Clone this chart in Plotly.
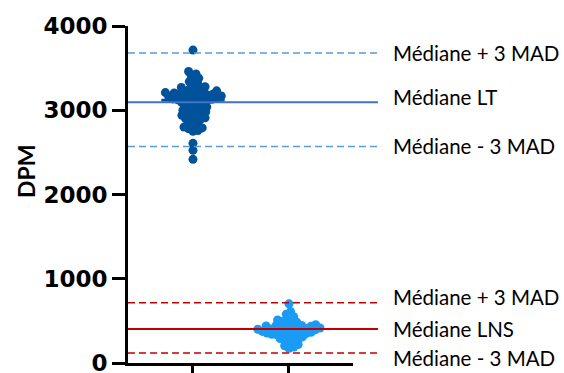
import numpy as np
import plotly.graph_objects as go

categories = ["LT", "LNS"]
cat_pos = [1, 2]

lt_values = [3714,
             3460, 3430, 3410,
             3380, 3360, 3340, 3320, 3300,
             3280, 3270, 3260, 3250, 3240, 3230, 3220, 3215, 3210, 3205, 3200, 3195,
             3190, 3185, 3180, 3175, 3170, 3165, 3160, 3155, 3150, 3145, 3140, 3135,
             3130, 3125, 3120, 3115, 3110,
             3100, 3090, 3080, 3070, 3060, 3050, 3040, 3030, 3020, 3010, 3000, 2990,
             2980, 2970, 2960, 2950, 2940, 2930, 2920, 2910, 2900, 2890, 2880,
             2860, 2840, 2820, 2800, 2790, 2780, 2760, 2750,
             2607, 2524, 2417]
lns_values = [702, 610, 580, 550, 530, 510, 495, 485, 475, 465, 455, 450, 445, 440,
              435, 430, 425, 420, 415, 410, 405, 400, 400, 395, 390, 385, 380, 375,
              370, 365, 360, 355, 350, 345, 340, 335, 330, 320, 310, 300, 290, 280,
              265, 250, 235, 220, 205, 190, 175]

lt_lines = [3680, 3095, 2570]
lns_lines = [715, 405, 120]
lt_labels = ["Médiane + 3 MAD", "Médiane LT", "Médiane - 3 MAD"]
lns_labels = ["Médiane + 3 MAD", "Médiane LNS", "Médiane - 3 MAD"]
y_ticks = [0, 1000, 2000, 3000, 4000]

# layout geometry
L, R, T, B = 128, 211, 26, 10
W, H = 564, 373
plot_w = W - L - R
plot_h = H - T - B
x_range = [0.323, 2.667]
y_range = [0, 4000]
px_x = plot_w / (x_range[1] - x_range[0])
px_y = plot_h / (y_range[1] - y_range[0])


def swarm(values, d=5.0):
    ys = np.array(values, dtype=float) * px_y
    order = np.argsort(ys)
    placed = []
    xs = np.zeros(len(ys))
    for i in order:
        y = ys[i]
        cands = [0.0]
        for xj, yj in placed:
            dy = y - yj
            if abs(dy) < d:
                dx = np.sqrt(d * d - dy * dy)
                cands += [xj + dx, xj - dx]
        cands.sort(key=abs)
        for c in cands:
            if all((c - xj) ** 2 + (y - yj) ** 2 >= d * d - 1e-6 for xj, yj in placed):
                xs[i] = c
                break
        placed.append((xs[i], y))
    return xs / px_x


fig = go.Figure()

colors = ["#00529B", "#1A9BF5"]
for pos, vals, col in zip(cat_pos, [lt_values, lns_values], colors):
    off = swarm(vals)
    fig.add_trace(go.Scatter(x=pos + off, y=vals, mode="markers",
                             marker=dict(size=9, color=col, line=dict(width=0)),
                             showlegend=False, hoverinfo="y"))

# median bar for LT
med = float(np.median(lt_values))
fig.add_trace(go.Scatter(x=[cat_pos[0] - 0.33, cat_pos[0] + 0.33], y=[med, med],
                         mode="lines", line=dict(color="#00529B", width=3),
                         showlegend=False, hoverinfo="skip"))

x_end = (378 - L) / plot_w
label_x = (391 - L) / plot_w

line_styles = [
    (lt_lines, lt_labels, ["#5B9BD5", "#4472C4", "#5B9BD5"], [1.5, 2, 1.5], ["7px,4px", "solid", "7px,4px"], [0, 5, 0]),
    (lns_lines, lns_labels, ["#C00000"] * 3, [1.5, 2, 1.5], ["7px,4px", "solid", "7px,4px"], [6, 0, -5]),
]
for vals, labels, cols, widths, dashes, shifts in line_styles:
    for v, lab, c, w, dsh, sh in zip(vals, labels, cols, widths, dashes, shifts):
        fig.add_shape(type="line", xref="paper", yref="y", x0=0, x1=x_end, y0=v, y1=v,
                      line=dict(color=c, width=w, dash=dsh), layer="above")
        fig.add_annotation(xref="paper", yref="y", x=label_x, y=v, text=lab,
                           showarrow=False, xanchor="left", yanchor="middle", yshift=sh,
                           font=dict(family="Lato", size=20.5, color="#000000"))

fig.add_annotation(xref="paper", yref="paper", x=-(L - 26) / plot_w, y=(H - B - 172) / plot_h,
                   text="<b>DPM</b>", textangle=-90, showarrow=False,
                   xanchor="center", yanchor="middle",
                   font=dict(family="Lato", size=23, color="#000000"))

fig.update_layout(
    width=W, height=H,
    margin=dict(l=L, r=R, t=T, b=B, pad=0),
    plot_bgcolor="white", paper_bgcolor="white",
    xaxis=dict(range=x_range, showgrid=False, zeroline=False, showline=True,
               linecolor="black", linewidth=3, ticks="outside", ticklen=12,
               tickwidth=3, tickcolor="black", tickvals=cat_pos, ticktext=categories,
               showticklabels=False, automargin=False),
    yaxis=dict(range=y_range, showgrid=False, zeroline=False, showline=True,
               linecolor="black", linewidth=3, ticks="outside", ticklen=13,
               tickwidth=3, tickcolor="black", tickvals=y_ticks, automargin=False,
               ticklabeloverflow="allow",
               tickfont=dict(family="DejaVu Sans", size=23, color="black", weight="bold")),
)

fig.write_html("out.html", config={"displayModeBar": False},
               post_script="document.body.style.margin='0';document.body.style.overflow='hidden';")
